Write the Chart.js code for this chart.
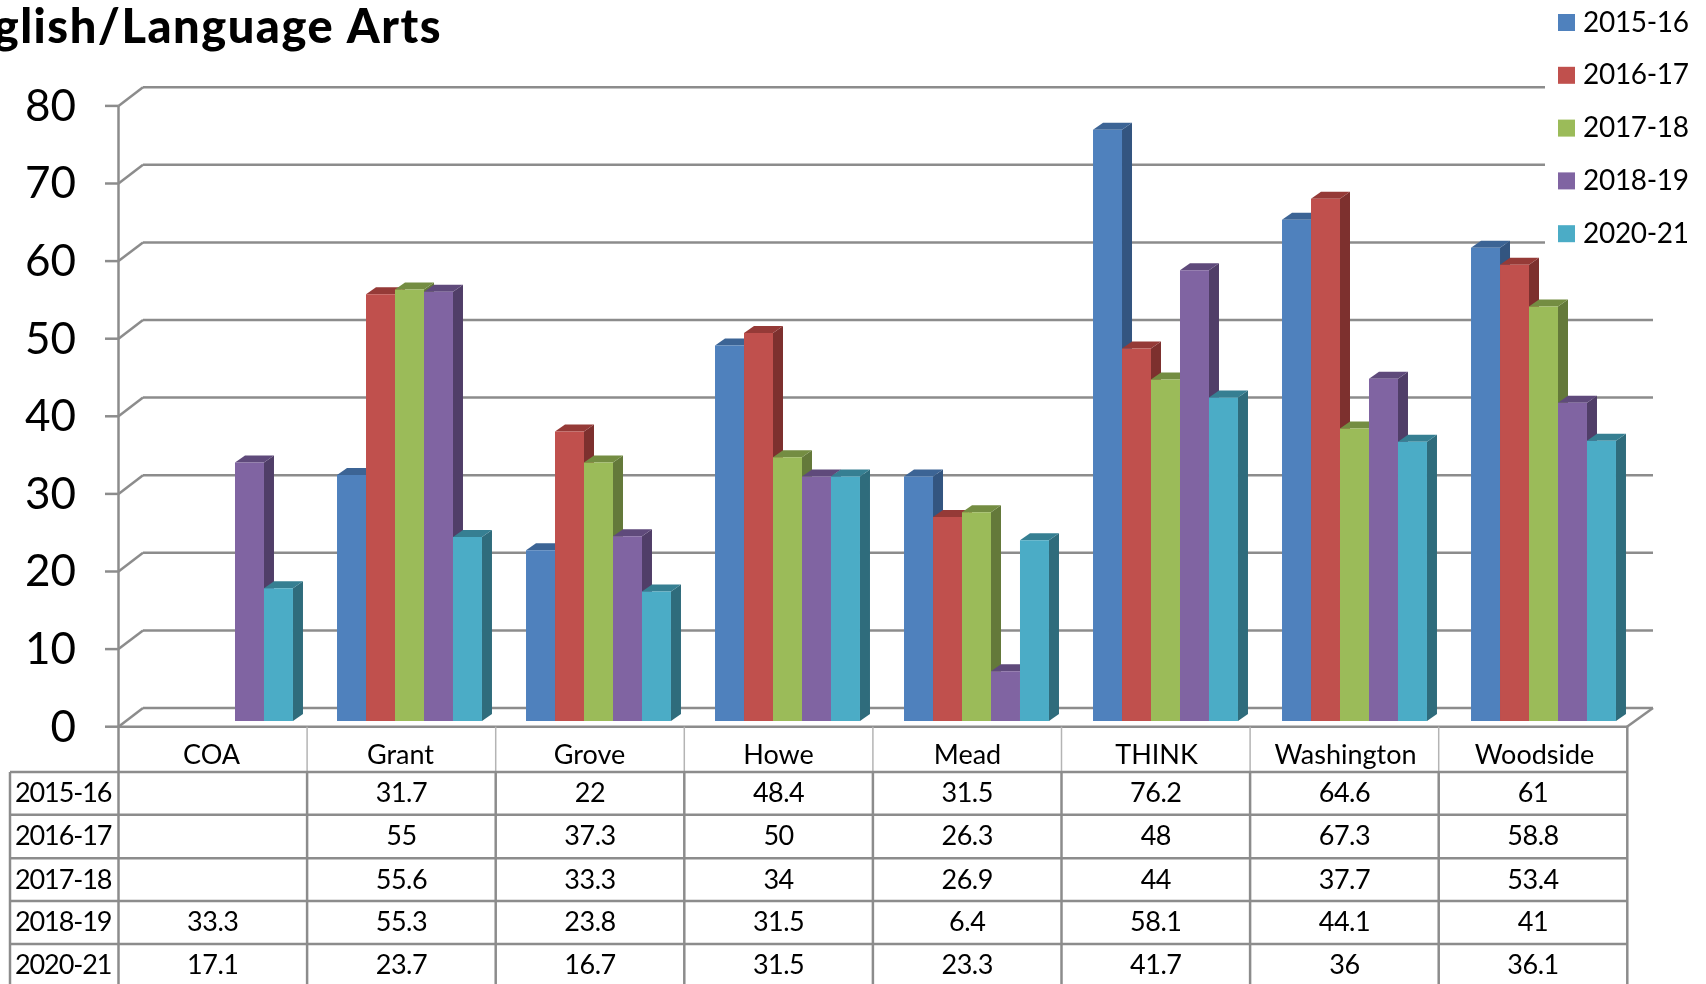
<!DOCTYPE html>
<html><head><meta charset="utf-8">
<style>html,body{margin:0;padding:0;background:#fff;overflow:hidden}canvas{display:block}</style>
<script src="https://cdn.jsdelivr.net/npm/chart.js@4"></script></head>
<body><canvas id="c" width="1706" height="984"></canvas>
<script>
const titleText = "English/Language Arts";
const categories = ["COA","Grant","Grove","Howe","Mead","THINK","Washington","Woodside"];
const seriesNames = ["2015-16","2016-17","2017-18","2018-19","2020-21"];
const s1516 = [null,31.7,22,48.4,31.5,76.2,64.6,61];
const s1617 = [null,55,37.3,50,26.3,48,67.3,58.8];
const s1718 = [null,55.6,33.3,34,26.9,44,37.7,53.4];
const s1819 = [33.3,55.3,23.8,31.5,6.4,58.1,44.1,41];
const s2021 = [17.1,23.7,16.7,31.5,23.3,41.7,36,36.1];
const seriesValues = [s1516,s1617,s1718,s1819,s2021];
const faceColors = ["#4F81BD","#C0504D","#9BBB59","#8064A2","#4BACC6"];
const topColors  = ["#3C6495","#953A37","#748D42","#5F4A7B","#367F92"];
const sideColors = ["#335580","#7D302E","#64793A","#503E68","#2F6C7C"];
const FONT = "Lato, 'Noto Sans', sans-serif";
const LINE = "#8C8C8C", INK = "#000";

const threeD = {
  id:"threeD",
  beforeDatasetsDraw(chart){
    const ctx = chart.ctx, y = chart.scales.y;
    const line = (x0,y0,x1,y1,w=2.5,c=LINE)=>{ctx.strokeStyle=c;ctx.lineWidth=w;ctx.beginPath();ctx.moveTo(x0,y0);ctx.lineTo(x1,y1);ctx.stroke();};
    ctx.save();
    for(let v=0;v<=80;v+=10){
      const p = y.getPixelForValue(v), back = p-13, front = p+5.7;
      line(143,back,1653,back);
      line(118.5,front,143,back);
      line(105,front,118.5,front);
    }
    line(118.5,y.getPixelForValue(80)+5.7,118.5,y.getPixelForValue(0)+5.7);
    const fy = y.getPixelForValue(0)+5.7, by = y.getPixelForValue(0)-13;
    line(1627,fy,1653,by);
    ctx.fillStyle="#fff";ctx.fillRect(1545,0,161,250);
    const dx=10, dy=7;
    categories.forEach((_,i)=>{
      seriesValues.forEach((_,d)=>{
        const el = chart.getDatasetMeta(d).data[i];
        if(!el || seriesValues[d][i]==null) return;
        const r = el.x+el.width/2, l = el.x-el.width/2;
        ctx.fillStyle=sideColors[d];
        ctx.beginPath();ctx.moveTo(r,el.base);ctx.lineTo(r+dx,el.base-dy);ctx.lineTo(r+dx,el.y-dy);ctx.lineTo(r,el.y);ctx.closePath();ctx.fill();
        ctx.fillStyle=topColors[d];
        ctx.beginPath();ctx.moveTo(l,el.y);ctx.lineTo(l+dx,el.y-dy);ctx.lineTo(r+dx,el.y-dy);ctx.lineTo(r,el.y);ctx.closePath();ctx.fill();
      });
    });
    ctx.restore();
  },
  afterDatasetsDraw(chart){
    const ctx = chart.ctx, y = chart.scales.y;
    const line = (x0,y0,x1,y1,w=2.5,c=LINE)=>{ctx.strokeStyle=c;ctx.lineWidth=w;ctx.beginPath();ctx.moveTo(x0,y0);ctx.lineTo(x1,y1);ctx.stroke();};
    ctx.save();
    const fy = y.getPixelForValue(0)+5.7;
    ctx.fillStyle=INK;ctx.textAlign="right";ctx.textBaseline="alphabetic";
    ctx.letterSpacing="1.5px";
    ctx.font=`900 47px ${FONT}`;ctx.fillText(titleText,442,43);
    ctx.textAlign="left";ctx.textBaseline="middle";ctx.font=`28px ${FONT}`;
    ctx.letterSpacing="-0.3px";
    seriesNames.forEach((n,d)=>{
      const cy = 22.5+d*52.8;
      ctx.fillStyle=faceColors[d];ctx.fillRect(1558,cy-8.5,17,17);
      ctx.fillStyle=INK;ctx.fillText(n,1583,cy);
    });
    const colW = 188.6, x0 = 118.5, rows=[772,814.7,858.3,901,944];
    line(x0,fy,1627,fy);
    for(let k=0;k<=8;k++){
      const x=x0+k*colW;
      line(x,fy,x,772,k===0||k===8?2.5:1.5,k===0||k===8?LINE:"#B4B4B4");
      line(x,772,x,984);
    }
    rows.forEach(r=>line(10,r,1627,r));
    line(10,772,10,984);
    ctx.font=`27px ${FONT}`;ctx.fillStyle=INK;
    seriesNames.forEach((n,d)=>{
      const cy = rows[d]+21.5;
      ctx.textAlign="left";ctx.letterSpacing="-1.1px";ctx.fillText(n,15,cy);
      ctx.textAlign="center";ctx.letterSpacing="-0.5px";
      categories.forEach((_,i)=>{
        const v = seriesValues[d][i];
        if(v!=null) ctx.fillText(String(v),x0+colW*(i+.5),cy);
      });
    });
    ctx.restore();
  }
};

new Chart(document.getElementById("c"),{
  type:"bar",
  data:{labels:categories,datasets:seriesNames.map((n,d)=>({label:n,data:seriesValues[d],backgroundColor:faceColors[d],borderWidth:0,categoryPercentage:0.767,barPercentage:1}))},
  plugins:[threeD],
  options:{
    responsive:false,animation:false,
    layout:{padding:{top:100.2,right:68,left:0,bottom:0}},
    plugins:{legend:{display:false},title:{display:false},tooltip:{enabled:false}},
    scales:{
      x:{
        grid:{display:false,drawTicks:false},border:{display:false},
        afterFit(s){s.height=263;},
        ticks:{font:{family:FONT,size:27},color:INK,padding:18,labelOffset:-9,maxRotation:0,autoSkip:false}
      },
      y:{
        min:0,max:80,
        grid:{display:false,drawTicks:false},border:{display:false},
        afterFit(s){s.width=126;},
        ticks:{stepSize:10,font:{family:FONT,size:44},color:INK,padding:50,labelOffset:6.5}
      }
    }
  }
});
</script></body></html>
